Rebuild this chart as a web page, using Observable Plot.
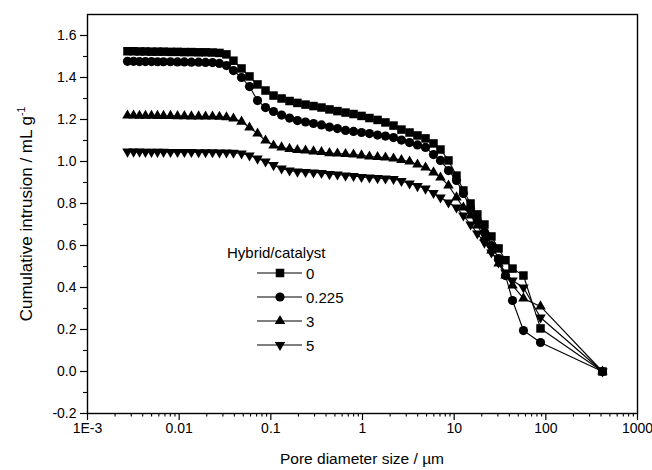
<!DOCTYPE html>
<html><head><meta charset="utf-8">
<script src="https://cdn.jsdelivr.net/npm/d3@7"></script>
<script src="https://cdn.jsdelivr.net/npm/@observablehq/plot@0.6"></script>
<style>
body{margin:0;background:#fff;}
#wrap{width:652px;height:470px;}
</style></head><body><div id="wrap"></div>
<script>
// Pore diameter (µm)
const diameters = [0.00273,0.00318,0.00369,0.00429,0.00499,0.0058,0.00675,0.00804,0.00959,0.0114,0.0136,0.0163,0.0194,0.0231,0.0275,0.0328,
  0.0391,0.0479,0.0585,0.0716,0.0875,0.107,0.131,0.160,0.195,0.239,0.292,0.357,0.436,0.533,0.653,0.798,0.975,1.19,1.46,1.78,2.18,2.66,3.26,3.98,4.87,5.95,7.09,8.67,10.6,12.6,15.1,17.9,21.4,25.5,30.5,36.3,43.3,57.0,87.5,415];

const seriesNames = ["0","0.225","3","5"];
const v0 = [1.525,1.525,1.524,1.524,1.523,1.523,1.523,1.522,1.522,1.521,1.521,1.520,1.520,1.519,1.517,1.510,
  1.480,1.443,1.405,1.367,1.338,1.314,1.300,1.288,1.279,1.271,1.264,1.257,1.248,1.240,1.233,1.226,1.217,1.207,1.198,1.186,1.171,1.152,1.138,1.124,1.110,1.086,1.057,1.005,0.933,0.862,0.800,0.748,0.700,0.643,0.586,0.530,0.490,0.457,0.205,0.0];
const v0225 = [1.477,1.477,1.476,1.476,1.476,1.475,1.475,1.475,1.474,1.474,1.473,1.473,1.472,1.471,1.467,1.457,
  1.433,1.400,1.357,1.290,1.257,1.238,1.221,1.207,1.195,1.188,1.181,1.174,1.164,1.157,1.148,1.143,1.138,1.133,1.126,1.121,1.114,1.102,1.090,1.079,1.067,1.033,1.005,0.957,0.910,0.848,0.776,0.719,0.662,0.600,0.538,0.457,0.338,0.195,0.138,0.0];
const v3 = [1.219,1.219,1.218,1.218,1.218,1.217,1.217,1.217,1.216,1.216,1.215,1.215,1.214,1.214,1.213,1.211,
  1.205,1.190,1.162,1.133,1.100,1.076,1.067,1.060,1.055,1.052,1.048,1.045,1.040,1.038,1.036,1.033,1.029,1.024,1.021,1.019,1.014,1.007,1.000,0.986,0.971,0.948,0.924,0.886,0.829,0.781,0.743,0.695,0.638,0.576,0.514,0.457,0.410,0.348,0.310,0.0];
const v5 = [1.047,1.047,1.047,1.046,1.046,1.046,1.046,1.045,1.045,1.045,1.045,1.044,1.044,1.044,1.043,1.043,
  1.042,1.038,1.029,1.014,1.000,0.983,0.967,0.957,0.952,0.950,0.948,0.945,0.940,0.938,0.933,0.931,0.926,0.924,0.921,0.919,0.917,0.907,0.895,0.883,0.871,0.850,0.829,0.805,0.781,0.743,0.700,0.657,0.614,0.567,0.519,0.471,0.433,0.400,0.257,0.0];

const xTicks = [0.001,0.01,0.1,1,10,100,1000];
const xTickLabels = ["1E-3","0.01","0.1","1","10","100","1000"];
const xMinorTicks = [];
for (const p of [0.001,0.01,0.1,1,10,100]) for (const m of [2,3,4,5,6,7,8,9]) xMinorTicks.push(+(p*m).toPrecision(3));
const yTicks = [-0.2,0.0,0.2,0.4,0.6,0.8,1.0,1.2,1.4,1.6];
const yMinorTicks = [-0.1,0.1,0.3,0.5,0.7,0.9,1.1,1.3,1.5];

const allValues = [v0, v0225, v3, v5];
const symbols = ["square","circle","triangle","triangle"];
const rotations = [0,0,0,180];
const radii = [4.8,4.6,3.9,3.9];

const rows = seriesNames.map((s,i) => diameters.map((d,j) => ({d, v: allValues[i][j], s})));

const font = "'Liberation Sans', Arial, sans-serif";
const marks = [];
rows.forEach((r,i) => {
  marks.push(Plot.line(r, {x:"d", y:"v", stroke:"black", strokeWidth:1.1}));
});
rows.forEach((r,i) => {
  marks.push(Plot.dot(r, {x:"d", y:"v", symbol: symbols[i], r: radii[i], rotate: rotations[i], fill:"black", stroke:"none"}));
});

const plot = Plot.plot({
  width: 652, height: 470,
  marginLeft: 87, marginRight: 15, marginTop: 14, marginBottom: 57,
  style: {fontFamily: font, background: "white", color: "black"},
  x: {type:"log", domain:[0.001,1000]},
  y: {domain:[-0.2,1.7]},
  marks: [
    Plot.axisX(xMinorTicks, {tickSize:3.5, tickFormat: () => "", strokeWidth:1.1, label:null}),
    Plot.axisX(xTicks, {tickSize:7, tickPadding:3, tickFormat:(d)=>xTickLabels[xTicks.indexOf(d)], fontSize:14, strokeWidth:1.2, label:null}),
    Plot.axisY(yMinorTicks, {tickSize:4, tickFormat: () => "", strokeWidth:1.1, label:null}),
    Plot.axisY(yTicks, {tickSize:7, tickPadding:4, tickFormat: d => d.toFixed(1), fontSize:14, strokeWidth:1.2, label:null}),
    ...marks,
    Plot.frame({stroke:"black", strokeWidth:1.4})
  ]
});
document.getElementById("wrap").appendChild(plot);

// axis titles
const svg = d3.select(plot);
svg.append("text").attr("x", 362).attr("y", 464).attr("text-anchor","middle")
  .attr("font-size", 15.5).attr("font-family", font).attr("fill","black").text("Pore diameter size / µm");
const yt = svg.append("text").attr("transform","translate(32,214) rotate(-90)").attr("text-anchor","middle")
  .attr("font-size", 17).attr("font-family", font).attr("fill","black");
yt.append("tspan").text("Cumulative intrusion / mL g");
yt.append("tspan").attr("font-size", 10.5).attr("dy", -7).text("-1");

// legend
const lg = svg.append("g").attr("font-family", font).attr("font-size", 15).attr("fill","black").attr("text-anchor","start");
lg.append("text").attr("x", 227).attr("y", 258).attr("text-anchor","start").text("Hybrid/catalyst");
seriesNames.forEach((s,i) => {
  const yy = 273 + i*24;
  lg.append("line").attr("x1",257).attr("x2",302).attr("y1",yy).attr("y2",yy).attr("stroke","black").attr("stroke-width",1.2);
  lg.append("path").attr("d", d3.symbol(d3["symbol"+symbols[i][0].toUpperCase()+symbols[i].slice(1)], radii[i]*radii[i]*Math.PI)())
    .attr("transform", `translate(280,${yy}) rotate(${rotations[i]})`).attr("fill","black");
  lg.append("text").attr("x", 306).attr("y", yy+5.5).attr("text-anchor","start").text(s);
});
</script></body></html>
